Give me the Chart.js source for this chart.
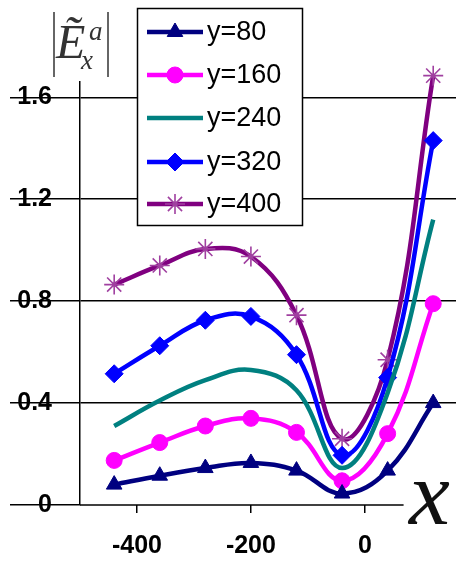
<!DOCTYPE html>
<html>
<head>
<meta charset="utf-8">
<script src="https://cdn.jsdelivr.net/npm/chart.js@4/dist/chart.umd.min.js"></script>
<style>
  html, body { margin: 0; padding: 0; background: #fff; }
  canvas { display: block; }
</style>
</head>
<body>
<canvas id="c" width="457" height="568"></canvas>
<script>
// ---- data ----
const xValues = [-440, -360, -280, -200, -120, -40, 40, 120];
const seriesLabels = ['y=80', 'y=160', 'y=240', 'y=320', 'y=400'];
const y80  = [0.08, 0.115, 0.145, 0.165, 0.135, 0.045, 0.135, 0.40];
const y160 = [0.175, 0.245, 0.31, 0.34, 0.285, 0.095, 0.28, 0.79];
const y240 = [0.31, 0.41, 0.49, 0.53, 0.45, 0.145, 0.44, 1.12];
const y320 = [0.515, 0.625, 0.725, 0.74, 0.59, 0.195, 0.50, 1.43];
const y400 = [0.865, 0.94, 1.005, 0.975, 0.745, 0.26, 0.57, 1.685];
const yTicks = [0, 0.4, 0.8, 1.2, 1.6];
const xTicks = [-400, -200, 0];
const X_MIN = -500, X_MAX = 160, X_AXIS_END = 68;
const Y_MIN = 0, Y_MAX = 1.66;

const seriesValues = [y80, y160, y240, y320, y400];
const colors = ['#000080', '#FF00FF', '#008080', '#0000FF', '#800080'];
const pointStyles = ['triangle', 'circle', 'circle', 'rectRot', 'star'];
const pointRadii = [9, 8, 0, 9, 10];
const pointBorders = ['#000080', '#FF00FF', '#008080', '#0000FF', '#A040A0'];

const datasets = seriesLabels.map((lab, i) => ({
  label: lab,
  data: xValues.map((x, j) => ({ x: x, y: seriesValues[i][j] })),
  borderColor: colors[i],
  backgroundColor: colors[i],
  pointBackgroundColor: colors[i],
  pointBorderColor: pointBorders[i],
  pointBorderWidth: pointStyles[i] === 'star' ? 1.6 : 1,
  pointStyle: pointStyles[i],
  pointRadius: pointRadii[i],
  pointHoverRadius: pointRadii[i],
  borderWidth: 4.5,
  tension: 0.4,
  fill: false,
  clip: false
}));

const decor = {
  id: 'decor',
  afterDraw(chart) {
    const ctx = chart.ctx;
    const xs = chart.scales.x;
    const ys = chart.scales.y;
    ctx.save();
    // x axis line (stops before the big x label)
    ctx.strokeStyle = '#000';
    ctx.lineWidth = 1.5;
    ctx.beginPath();
    ctx.moveTo(xs.left, ys.bottom);
    ctx.lineTo(xs.getPixelForValue(X_AXIS_END), ys.bottom);
    ctx.stroke();

    // big italic x label
    ctx.fillStyle = '#111';
    ctx.font = 'italic 92px "Liberation Serif", "Times New Roman", serif';
    ctx.textAlign = 'left';
    ctx.textBaseline = 'alphabetic';
    ctx.fillText('x', 409, 524);

    // y axis title |E~ x^a|
    ctx.strokeStyle = '#666';
    ctx.lineWidth = 2;
    ctx.beginPath();
    ctx.moveTo(54, 12); ctx.lineTo(54, 77);
    ctx.moveTo(108, 12); ctx.lineTo(108, 77);
    ctx.stroke();
    ctx.fillStyle = '#333';
    ctx.font = 'italic 48px "Liberation Serif", serif';
    ctx.fillText('\u1EBC', 56, 58);
    ctx.font = 'italic 27px "Liberation Serif", serif';
    ctx.fillText('a', 89, 40);
    ctx.fillText('x', 81, 69);

    // legend
    const bx = 137.5, by = 8.5, bw = 165, bh = 217;
    ctx.fillStyle = '#fff';
    ctx.fillRect(bx, by, bw, bh);
    ctx.strokeStyle = '#000';
    ctx.lineWidth = 1.5;
    ctx.strokeRect(bx, by, bw, bh);
    const rowY = [32, 75, 118, 162, 204];
    chart.data.datasets.forEach((ds, i) => {
      const yy = rowY[i];
      ctx.strokeStyle = ds.borderColor;
      ctx.lineWidth = 4.5;
      ctx.beginPath();
      ctx.moveTo(147, yy); ctx.lineTo(203, yy);
      ctx.stroke();
      if (ds.pointRadius > 0) {
        ctx.fillStyle = ds.pointBackgroundColor;
        ctx.strokeStyle = ds.pointBorderColor;
        ctx.lineWidth = ds.pointBorderWidth;
        Chart.helpers.drawPoint(ctx, {
          pointStyle: ds.pointStyle, rotation: 0,
          radius: ds.pointRadius, borderWidth: ds.pointBorderWidth
        }, 175, yy);
      }
      ctx.fillStyle = '#000';
      ctx.font = '27px "Liberation Sans", Arial, sans-serif';
      ctx.textAlign = 'left';
      ctx.textBaseline = 'middle';
      ctx.fillText(ds.label, 207, yy + 1);
    });
    ctx.restore();
  }
};

new Chart(document.getElementById('c'), {
  type: 'line',
  data: { datasets },
  options: {
    responsive: false,
    animation: false,
    layout: { autoPadding: false, padding: { top: 82, left: 0, right: 1, bottom: 0 } },
    plugins: { legend: { display: false }, tooltip: { enabled: false } },
    scales: {
      x: {
        type: 'linear',
        min: X_MIN, max: X_MAX,
        afterBuildTicks: s => { s.ticks = xTicks.map(v => ({ value: v })); },
        afterFit: s => { s.height = 63; s.paddingLeft = 0; s.paddingRight = 0; },
        border: { display: false },
        grid: { drawOnChartArea: false, drawTicks: true, tickLength: 8, color: '#000', lineWidth: 1.5 },
        ticks: {
          color: '#000', padding: 18,
          font: { family: '"Liberation Sans", Arial, sans-serif', size: 25, weight: 'bold' },
          maxRotation: 0
        }
      },
      y: {
        min: Y_MIN, max: Y_MAX,
        afterBuildTicks: s => { s.ticks = yTicks.map(v => ({ value: v })); },
        afterFit: s => { s.width = 80; },
        border: { display: true, color: '#000', width: 1.5 },
        grid: {
          color: c => (c.tick && c.tick.value === 0) ? 'rgba(0,0,0,0)' : '#000',
          tickColor: '#000',
          lineWidth: 1.5, tickLength: 70, drawTicks: true
        },
        ticks: {
          color: '#000', padding: -42,
          font: { family: '"Liberation Sans", Arial, sans-serif', size: 25, weight: 'bold' },
          callback: v => String(v)
        }
      }
    }
  },
  plugins: [decor]
});
</script>
</body>
</html>
